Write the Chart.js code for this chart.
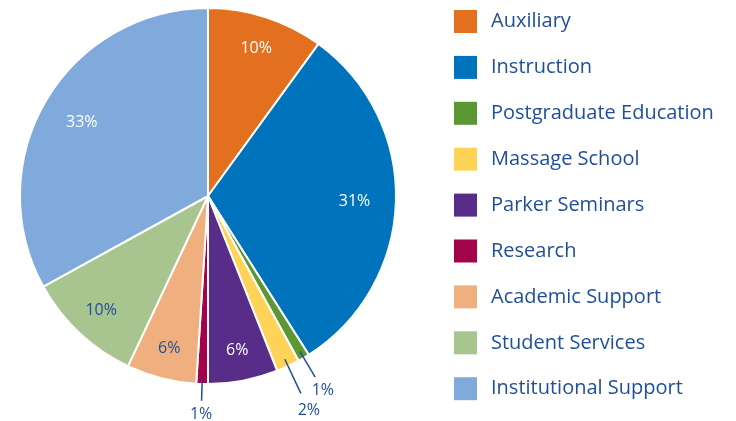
<!DOCTYPE html>
<html>
<head>
<meta charset="utf-8">
<script src="https://cdn.jsdelivr.net/npm/chart.js@4"></script>
<style>
  html, body { margin: 0; padding: 0; background: #fff; }
  #wrap { width: 736px; height: 421px; }
</style>
</head>
<body>
<div id="wrap"><canvas id="chart" width="736" height="421"></canvas></div>
<script>
const categories = [
  "Auxiliary",
  "Instruction",
  "Postgraduate Education",
  "Massage School",
  "Parker Seminars",
  "Research",
  "Academic Support",
  "Student Services",
  "Institutional Support"
];

const shares = [10, 31, 1, 2, 6, 1, 6, 10, 33];

const colors = [
  "#E3701F",
  "#0073BD",
  "#5B9833",
  "#FED458",
  "#582D8A",
  "#A3034A",
  "#F0AF7F",
  "#A8C48F",
  "#80AADB"
];

// label colour inside each slice
const labelColors = ["#fff", "#fff", "#1F4E9B", "#1F4E9B", "#fff", "#1F4E9B", "#1F4E9B", "#1F4E9B", "#fff"];

const textBlue = "#1F4E9B";
const fontFamily = "'Open Sans', Lato, sans-serif";

// slices too thin for an inside label get a leader line: [line start, line end, label distance] as fraction of radius
const outside = {
  2: [0.96, 1.12, 1.2],
  3: [0.96, 1.16, 1.26],
  5: [0.98, 1.09, 1.16]
};

const sliceLabels = {
  id: "sliceLabels",
  afterDatasetsDraw(chart){
    const ctx = chart.ctx;
    const meta = chart.getDatasetMeta(0);
    ctx.save();
    ctx.font = "16px " + fontFamily;
    ctx.textAlign = "center";
    ctx.textBaseline = "middle";
    meta.data.forEach((arc, i) => {
      const p = arc.getProps(["x", "y", "startAngle", "endAngle", "outerRadius"], true);
      const mid = (p.startAngle + p.endAngle) / 2;
      const R = p.outerRadius;
      const txt = shares[i] + "%";
      if(outside[i]){
        const o = outside[i];
        ctx.strokeStyle = textBlue;
        ctx.lineWidth = 1.5;
        ctx.beginPath();
        ctx.moveTo(p.x + Math.cos(mid) * R * o[0], p.y + Math.sin(mid) * R * o[0]);
        ctx.lineTo(p.x + Math.cos(mid) * R * o[1], p.y + Math.sin(mid) * R * o[1]);
        ctx.stroke();
        ctx.fillStyle = textBlue;
        ctx.fillText(txt, p.x + Math.cos(mid) * R * o[2], p.y + Math.sin(mid) * R * o[2]);
      } else {
        const f = shares[i] > 20 ? 0.78 : 0.83;
        ctx.fillStyle = labelColors[i];
        ctx.fillText(txt, p.x + Math.cos(mid) * R * f, p.y + 1 + Math.sin(mid) * R * f);
      }
    });
    ctx.restore();
  }
};

const sideLegend = {
  id: "sideLegend",
  afterDraw(chart){
    const ctx = chart.ctx;
    const ds = chart.data.datasets[0];
    ctx.save();
    ctx.font = "20px " + fontFamily;
    ctx.textBaseline = "middle";
    ctx.textAlign = "left";
    chart.data.labels.forEach((lab, i) => {
      const y = 21.5 + i * 45.9;
      ctx.fillStyle = ds.backgroundColor[i];
      ctx.fillRect(454, y - 11.5, 23, 23);
      ctx.fillStyle = textBlue;
      ctx.fillText(lab, 491, y);
    });
    ctx.restore();
  }
};

new Chart(document.getElementById("chart"), {
  type: "pie",
  data: {
    labels: categories,
    datasets: [{
      data: shares,
      backgroundColor: colors,
      borderColor: "#fff",
      borderWidth: 2
    }]
  },
  options: {
    responsive: false,
    animation: false,
    layout: {
      padding: { left: 19, top: 7, right: 339, bottom: 36 }
    },
    plugins: {
      legend: { display: false },
      tooltip: { enabled: false }
    }
  },
  plugins: [sliceLabels, sideLegend]
});
</script>
</body>
</html>
